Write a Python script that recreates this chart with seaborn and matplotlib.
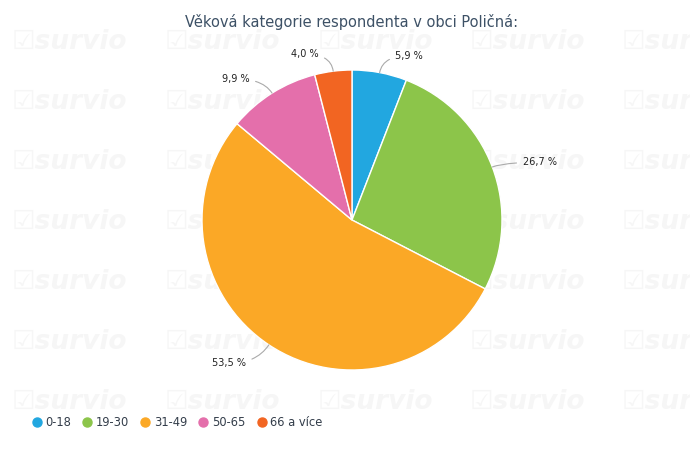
import numpy as np
import matplotlib
matplotlib.use("Agg")
import matplotlib.pyplot as plt
from matplotlib.lines import Line2D
import seaborn as sns

categories = ["0-18", "19-30", "31-49", "50-65", "66 a více"]
values = [5.9, 26.7, 53.5, 9.9, 4.0]
labels = ["5,9 %", "26,7 %", "53,5 %", "9,9 %", "4,0 %"]
colors = ["#22a7e0", "#8cc54a", "#fba826", "#e46fab", "#f26522"]
title = "Věková kategorie respondenta v obci Poličná:"

sns.set_theme(style="white")
plt.rcParams['font.family'] = ['DejaVu Sans']

W, H = 690, 453
fig = plt.figure(figsize=(W / 100, H / 100), dpi=100)
fig.patch.set_facecolor("white")

# faint watermark in a background axes
bg = fig.add_axes([0, 0, 1, 1], zorder=-5)
bg.set_xlim(0, W)
bg.set_ylim(H, 0)
bg.axis("off")
for yy in [42, 102, 162, 222, 282, 342, 402]:
    for xx in [12, 165, 318, 470, 622]:
        bg.text(xx, yy, "☑survio", fontsize=19, fontweight="bold",
                fontstyle="italic", color="#f6f6f6", ha="left", va="center", clip_on=True)

cx, cy, R = 352, 220, 150
ax = fig.add_axes([(cx - R) / W, 1 - (cy + R) / H, 2 * R / W, 2 * R / H], zorder=2)
ax.patch.set_alpha(0)

wedges, _ = ax.pie(values, colors=colors, startangle=90, counterclock=False, radius=1,
                   wedgeprops=dict(edgecolor="white", linewidth=1.0))
ax.set_xlim(-1, 1)
ax.set_ylim(-1, 1)
ax.axis("off")

for w, lab in zip(wedges, labels):
    ang = (w.theta1 + w.theta2) / 2
    a = np.deg2rad(ang)
    ex, ey = np.cos(a), np.sin(a)
    r2 = 1.13
    sgn = 1 if ex >= 0 else -1
    tx, ty = r2 * ex + 0.08 * sgn, r2 * ey - 0.015
    ax.annotate(lab, xy=(ex, ey), xytext=(tx, ty), fontsize=7, color="#222222",
                ha="left" if sgn > 0 else "right", va="center", annotation_clip=False,
                arrowprops=dict(arrowstyle="-", color="#aaaaaa", lw=0.8, shrinkA=2, shrinkB=0,
                                connectionstyle=f"angle3,angleA=0,angleB={ang}"))

fig.text(cx / W, 1 - 22 / H, title, fontsize=10.5, color="#3d5166", ha="center", va="center")

handles = [Line2D([0], [0], marker="o", linestyle="", markersize=6.5, markerfacecolor=c,
                  markeredgecolor=c) for c in colors]
fig.legend(handles, categories, loc="center left", bbox_to_anchor=(32 / W, 1 - 423 / H),
           ncol=5, frameon=False, fontsize=8.3, handlelength=0.8, handletextpad=0.35,
           columnspacing=1.0, labelcolor="#333d4a", borderaxespad=0, borderpad=0)

fig.savefig("out.png", dpi=100, facecolor="white")
